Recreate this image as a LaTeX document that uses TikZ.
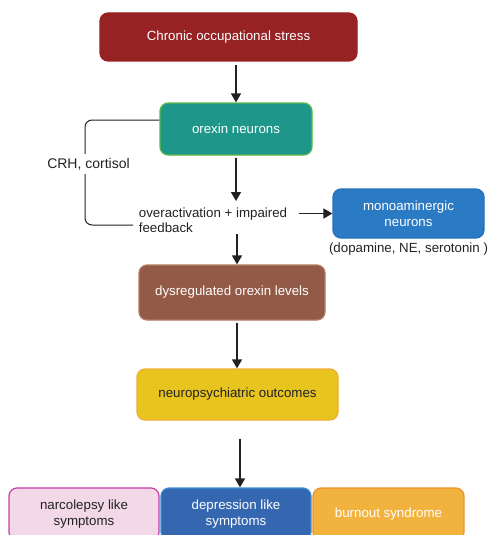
\documentclass[tikz,border=0pt]{standalone}
\usepackage{fontspec}
\setmainfont{Liberation Sans}
\usetikzlibrary{arrows.meta,positioning}

\definecolor{stressred}{HTML}{962224}
\definecolor{orexinteal}{HTML}{1E968A}
\definecolor{orexinrim}{HTML}{5DB94A}
\definecolor{monoblue}{HTML}{2B7AC4}
\definecolor{monorim}{HTML}{2470BA}
\definecolor{levelbrown}{HTML}{935A47}
\definecolor{levelrim}{HTML}{B27A62}
\definecolor{outyellow}{HTML}{E8C41F}
\definecolor{outrim}{HTML}{F0AC34}
\definecolor{narcopink}{HTML}{F3D9E7}
\definecolor{narcorim}{HTML}{C43DA4}
\definecolor{deprblue}{HTML}{3567B0}
\definecolor{deprrim}{HTML}{3B8CD8}
\definecolor{burnorange}{HTML}{F2B33E}
\definecolor{burnrim}{HTML}{EE922A}
\definecolor{inkgrey}{HTML}{222222}

\tikzset{
  box/.style={rounded corners=8pt, line width=1.2pt, align=center, inner sep=0pt,
    font=\fontsize{13.3}{15.5}\selectfont},
  flow/.style={draw=inkgrey, line width=1.6pt, -{Triangle[width=10pt,length=9pt]}},
  loop/.style={draw=inkgrey, line width=1pt, rounded corners=7pt},
}

\begin{document}
\begin{tikzpicture}[x=1pt,y=-1pt]
  \useasboundingbox (0,0) rectangle (488,535);
  \clip (0,0) rectangle (488,535);

  % main chain
  \node[box, fill=stressred, draw=stressred, text=white, minimum width=257pt, minimum height=48pt]
    (stress) at (228.5,37) {Chronic occupational stress};
  \node[box, fill=orexinteal, draw=orexinrim, text=white, minimum width=152pt, minimum height=52pt]
    (orexin) at (236,129) {orexin neurons};
  \node[align=left, inner sep=0pt, text=inkgrey, font=\fontsize{13.3}{15}\selectfont]
    (feedback) at (213,220.5) {overactivation + impaired\\feedback};
  \node[box, fill=monoblue, draw=monorim, text=white, minimum width=151pt, minimum height=49pt]
    (mono) at (408.5,213.5) {monoaminergic\\neurons};
  \node[below=4pt of mono, inner sep=0pt, text=inkgrey, font=\fontsize{13.3}{14}\selectfont]
    (transmit) {(dopamine, NE, serotonin )};
  \node[box, fill=levelbrown, draw=levelrim, text=white, minimum width=186pt, minimum height=55pt]
    (levels) at (232,292.5) {dysregulated orexin levels};
  \node[box, fill=outyellow, draw=outrim, text=inkgrey, minimum width=201pt, minimum height=51pt]
    (outcomes) at (237.5,394.5) {neuropsychiatric outcomes};

  % outcomes row
  \node[box, fill=narcopink, draw=narcorim, text=inkgrey, minimum width=150pt, minimum height=52pt]
    (narco) at (84,514) {narcolepsy like\\symptoms};
  \node[box, fill=deprblue, draw=deprrim, text=white, minimum width=150pt, minimum height=52pt]
    (depr) at (236,514) {depression like\\symptoms};
  \node[box, fill=burnorange, draw=burnrim, text=white, minimum width=151pt, minimum height=52pt]
    (burnout) at (388.5,514) {burnout syndrome};

  % feedback loop
  \coordinate (loopleft) at (85,120);
  \coordinate (loopend) at (133,225);
  \draw[loop] ([yshift=9pt]orexin.west) -- (loopleft) |- (loopend);
  \node[fill=white, inner sep=4pt, text=inkgrey, font=\fontsize{14}{15}\selectfont]
    (crh) at (88.5,164) {CRH, cortisol};

  % arrows
  \draw[flow, shorten <=3pt] (stress.south -| orexin.north) -- (orexin.north);
  \draw[flow, shorten <=2pt] (orexin.south) -- (orexin.south |- 0,201);
  \draw[flow] ([xshift=12pt]feedback.east |- mono.west) -- (mono.west);
  \draw[flow] (levels.north -| 237,0) ++(0,-30) coordinate (lvtop) -- (levels.north -| 237,0);
  \draw[flow, shorten <=2pt] (levels.south -| 237,0) -- (outcomes.north -| 237,0);
  \draw[flow] (outcomes.south -| 240,0) ++(0,18) coordinate (outfoot) -- (depr.north -| 240,0);
\end{tikzpicture}
\end{document}
